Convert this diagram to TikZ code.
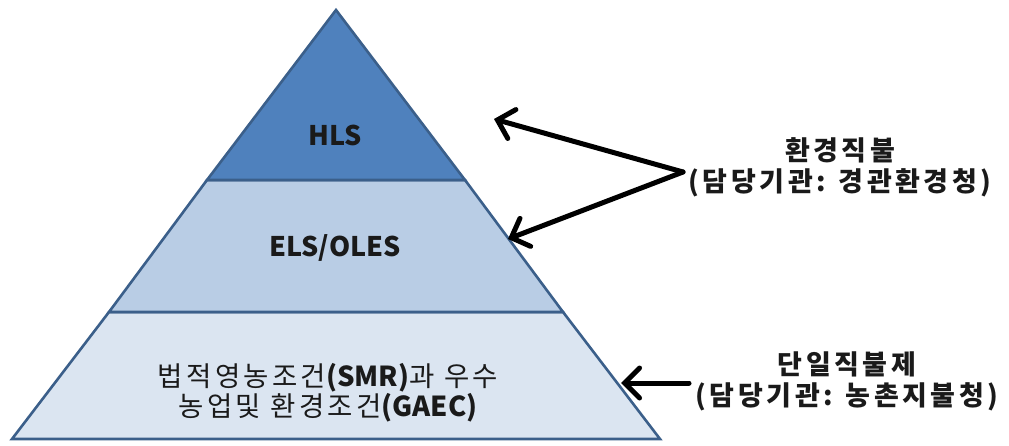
\documentclass[tikz,border=0pt]{standalone}
\usepackage{fontspec}
\setmainfont{Noto Sans CJK KR}
\newfontfamily\basekr[LetterSpace=12]{Noto Sans CJK KR}
\newfontfamily\sidekr[LetterSpace=13]{Noto Sans CJK KR}
\newcommand{\latinpart}[1]{{\rmfamily\bfseries #1}}
\usetikzlibrary{arrows.meta}
\definecolor{edgeblue}{HTML}{3B5F8A}
\definecolor{topblue}{HTML}{4F81BD}
\definecolor{midblue}{HTML}{B9CDE5}
\definecolor{lowblue}{HTML}{DBE5F1}
\definecolor{txt}{HTML}{1A1A1A}
\tikzset{
  layer/.style={draw=edgeblue, line width=2.6pt, line join=miter},
  tierlabel/.style={text=txt, font=\fontsize{27}{30}\selectfont\bfseries, align=center},
  baselabel/.style={text=txt, font=\basekr\fontsize{27.5}{30}\selectfont, align=center},
  sidelabel/.style={text=txt, font=\sidekr\fontsize{27}{31}\selectfont\bfseries, align=center},
  pointer/.style={line width=5pt, line cap=round, line join=round,
    -{Straight Barb[length=15pt,width=30pt,line cap=round]}}
}
\begin{document}
\begin{tikzpicture}[x=1pt,y=-1pt]
\useasboundingbox (0,0) rectangle (1009,445);
% pyramid corners and layer boundaries
\coordinate (apex) at (336,10);
\coordinate (bl) at (12,439);
\coordinate (br) at (660,439);
\coordinate (ul) at (207,180);
\coordinate (ur) at (465,180);
\coordinate (ml) at (109,312);
\coordinate (mr) at (563,312);
% layers, bottom to top
\path[layer, fill=lowblue] (ml) -- (mr) -- (br) -- (bl) -- cycle;
\path[layer, fill=midblue] (ul) -- (ur) -- (mr) -- (ml) -- cycle;
\path[layer, fill=topblue] (apex) -- (ur) -- (ul) -- cycle;
% tier texts
\node[tierlabel] (hls) at (335,135) {HLS};
\node[tierlabel] (els) at (335,248) {ELS/OLES};
\node[baselabel] (gaec) at (328,393) {법적영농조건\latinpart{(SMR)}과 우수\\농업및 환경조건\latinpart{(GAEC)}};
% side labels
\node[sidelabel] (agri) at (840,167) {환경직불\\(담당기관: 경관환경청)};
\node[sidelabel] (sps) at (847,381) {단일직불제\\(담당기관: 농촌지불청)};
% pointers
\coordinate (fork) at (683,172);
\coordinate (hlstip) at (494,119);
\coordinate (elstip) at (508,239);
\coordinate (spstail) at (689,383);
\coordinate (spstip) at (621,383);
\draw[pointer] (fork) -- (hlstip);
\draw[pointer] (fork) -- (elstip);
\draw[pointer] (spstail) -- (spstip);
\end{tikzpicture}
\end{document}
